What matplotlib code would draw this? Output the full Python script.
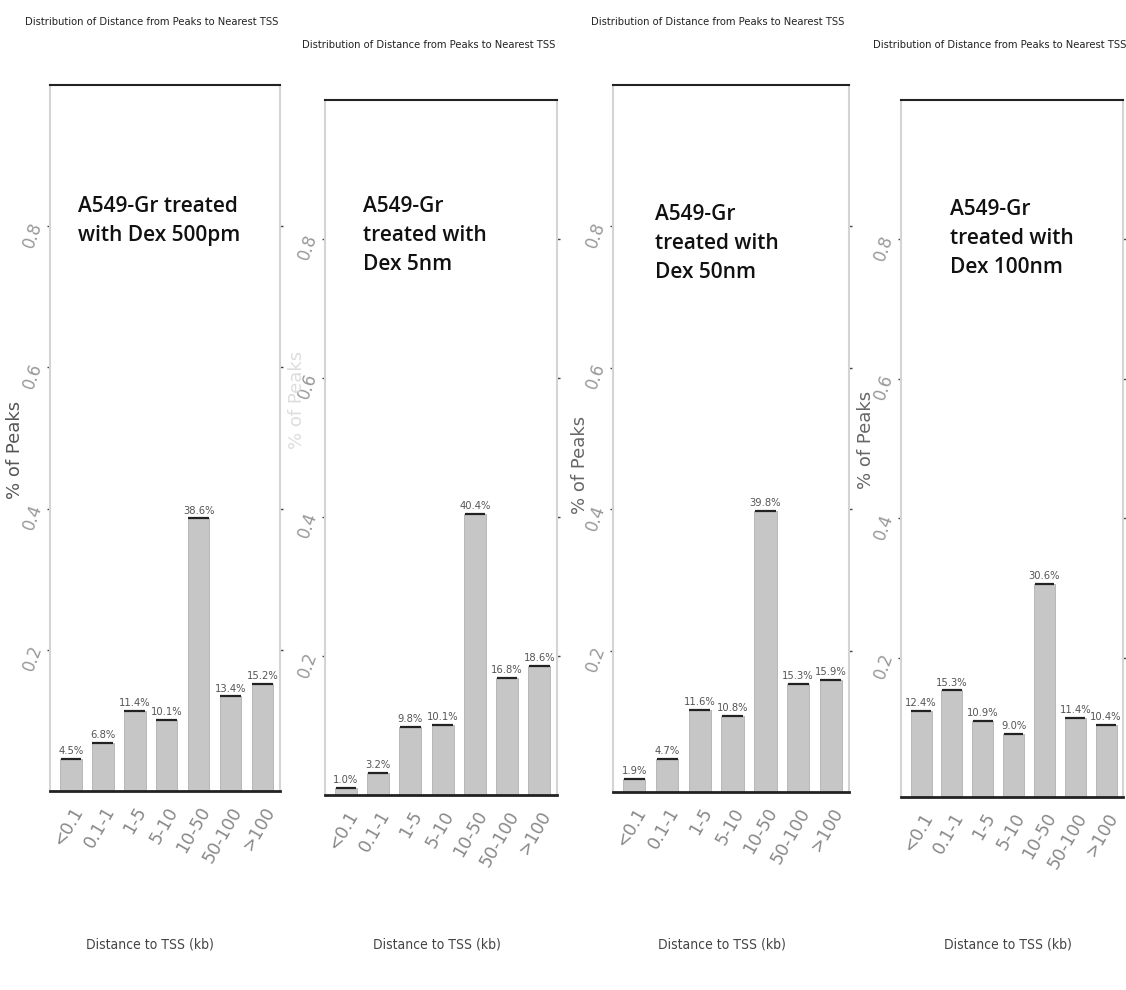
import matplotlib
matplotlib.use("Agg")
import matplotlib.pyplot as plt
import numpy as np

# distance bins (kb) and fraction of peaks per bin for each Dex dose
bins = ["<0.1", "0.1-1", "1-5", "5-10", "10-50", "50-100", ">100"]
dex_500pm = [4.5, 6.8, 11.4, 10.1, 38.6, 13.4, 15.2]
dex_5nm = [1.0, 3.2, 9.8, 10.1, 40.4, 16.8, 18.6]
dex_50nm = [1.9, 4.7, 11.6, 10.8, 39.8, 15.3, 15.9]
dex_100nm = [12.4, 15.3, 10.9, 9.0, 30.6, 11.4, 10.4]

notes = ["A549-Gr treated\nwith Dex 500pm",
         "A549-Gr\ntreated with\nDex 5nm",
         "A549-Gr\ntreated with\nDex 50nm",
         "A549-Gr\ntreated with\nDex 100nm"]
yticks = [0.2, 0.4, 0.6, 0.8]
title = "Distribution of Distance from Peaks to Nearest TSS"
xlab = "Distance to TSS (kb)"

W, H = 1126, 990
fig = plt.figure(figsize=(W / 100, H / 100), dpi=100)

# axes boxes in pixels: left, right, top, bottom
boxes = [(50, 280, 85, 791), (325, 557, 100, 795),
         (613, 849, 85, 792), (901, 1123, 100, 797)]
title_xy = [(152, 22), (429, 45), (718, 22), (1000, 45)]
xlab_x = [150, 437, 722, 1008]
note_pos = [(78, 196), (363, 196), (655, 204), (950, 199)]
ylab_pos = [(15, 450), (297, 400), (580, 465), (866, 440)]
ylab_col = ["#555555", "#dddddd", "#666666", "#666666"]
series = [dex_500pm, dex_5nm, dex_50nm, dex_100nm]

x = np.arange(len(bins))
for i, vals in enumerate(series):
    l, r, t, b = boxes[i]
    ax = fig.add_axes([l / W, 1 - b / H, (r - l) / W, (b - t) / H])
    frac = np.array(vals) / 100.0
    ax.bar(x, frac, width=0.68, color="#c6c6c6", edgecolor="#b0b0b0", linewidth=0.6)
    ax.hlines(frac, x - 0.32, x + 0.32, color="#222222", linewidth=1.6)
    for xi, v, f in zip(x, vals, frac):
        ax.annotate(f"{v:.1f}%", (xi, f), xytext=(0, 2), textcoords="offset points",
                    ha="center", va="bottom", fontsize=8, fontstretch="condensed",
                    color="#555555")
    ax.set_xlim(-0.65, 6.55)
    ax.set_ylim(0, 1.0)

    for side in ["left", "right"]:
        ax.spines[side].set_color("#d4d4d4")
        ax.spines[side].set_linewidth(1.5)
    ax.spines["top"].set_color("#222222")
    ax.spines["top"].set_linewidth(1.5)
    ax.spines["bottom"].set_color("#222222")
    ax.spines["bottom"].set_linewidth(2)

    ax.set_yticks(yticks)
    ax.set_yticklabels([f"{v:.1f}" for v in yticks], rotation=70, fontsize=12, color="#999999")
    ax.tick_params(axis="y", left=True, right=True, length=2, width=1, color="#444444", pad=1)
    ax.set_xticks(x)
    ax.set_xticklabels(bins, rotation=60, ha="right", rotation_mode="anchor",
                       fontsize=12.5, color="#888888")
    ax.tick_params(axis="x", length=0, pad=9)

    tx, ty = title_xy[i]
    fig.text(tx / W, 1 - ty / H, title, ha="center", va="center",
             fontsize=8, fontstretch="condensed", color="#222222")
    fig.text(xlab_x[i] / W, 1 - 945 / H, xlab, ha="center", va="center",
             fontsize=10, fontstretch="condensed", color="#444444")
    nx, ny = note_pos[i]
    fig.text(nx / W, 1 - ny / H, notes[i], ha="left", va="top", fontsize=15,
             family=["Open Sans", "DejaVu Sans"], weight="semibold",
             color="#111111", linespacing=1.5)
    lx, ly = ylab_pos[i]
    fig.text(lx / W, 1 - ly / H, "% of Peaks", rotation=90, ha="center", va="center",
             fontsize=13, color=ylab_col[i])

fig.savefig("out.png", dpi=100, facecolor="white")
